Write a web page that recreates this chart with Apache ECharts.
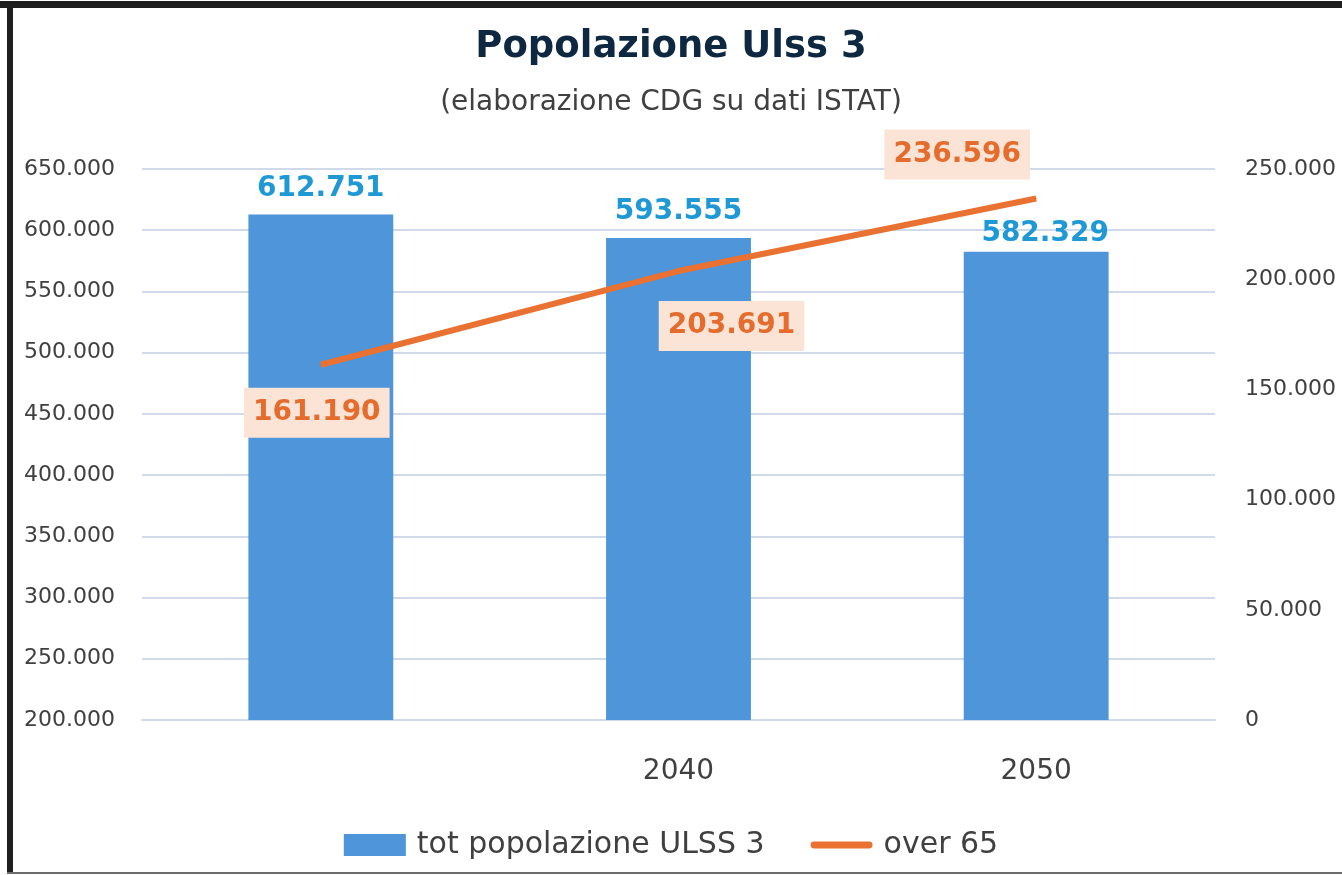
<!DOCTYPE html>
<html>
<head>
<meta charset="utf-8">
<script src="https://cdn.jsdelivr.net/npm/echarts@6/dist/echarts.min.js"></script>
<style>
  html, body { margin: 0; padding: 0; background: #ffffff; }
  #chart { position: absolute; left: 0; top: 0; width: 1342px; height: 875px; }
  .frame { position: absolute; background: #1f1f1f; pointer-events: none; }
</style>
</head>
<body>
<div id="chart"></div>
<div class="frame" style="left:0;top:1px;width:1342px;height:7px;"></div>
<div class="frame" style="left:7px;top:1px;width:6px;height:873px;"></div>
<div class="frame" style="left:7px;top:872px;width:1335px;height:2px;background:#6b6b6b;"></div>
<script>
// Population of ULSS 3: total residents (bars, left axis) and over-65 (line, right axis)
const categories = ['', '2040', '2050'];
const totPopolazione = [612751, 593555, 582329];
const over65 = [161190, 203691, 236596];

const leftAxis = { min: 200000, max: 650000, interval: 50000 };
const rightAxis = { min: 0, max: 250000, interval: 50000 };

// Italian thousands separator
function fmt(v) {
  return String(Math.round(v)).replace(/\B(?=(\d{3})+(?!\d))/g, '.');
}

const barLabelOffsets = [[0, 0], [0, 0], [9, 8]];
const lineLabelOffsets = [[-4, 48], [53, 55], [-79, -44]];

const chart = echarts.init(document.getElementById('chart'));
chart.setOption({
  animation: false,
  backgroundColor: '#ffffff',
  title: [
    {
      text: 'Popolazione Ulss 3',
      left: 'center', top: 24,
      textStyle: { fontFamily: 'DejaVu Sans', fontWeight: 'bold', fontSize: 37, color: '#0e2841' }
    },
    {
      text: '(elaborazione CDG su dati ISTAT)',
      left: 'center', top: 84,
      textStyle: { fontFamily: 'DejaVu Sans', fontWeight: 'normal', fontSize: 28, color: '#404040' }
    }
  ],
  grid: { left: 142, right: 127, top: 169, bottom: 155 },
  legend: {
    bottom: 10,
    left: 'center',
    itemWidth: 62,
    itemHeight: 22,
    itemGap: 46,
    textStyle: { fontFamily: 'DejaVu Sans', fontSize: 30, color: '#404040', padding: [0, 0, 0, 6] },
    data: [
      { name: 'tot popolazione ULSS 3', icon: 'rect' },
      { name: 'over 65', icon: 'path://M3,0 L59,0 A3.5,3.5 0 0 1 59,7 L3,7 A3.5,3.5 0 0 1 3,0 Z' }
    ]
  },
  xAxis: {
    type: 'category',
    data: categories,
    axisLine: { lineStyle: { color: '#cfdaea', width: 2 } },
    axisTick: { show: false },
    axisLabel: { margin: 38, fontFamily: 'DejaVu Sans', fontSize: 28, color: '#404040' }
  },
  yAxis: [
    {
      type: 'value',
      min: leftAxis.min, max: leftAxis.max, interval: leftAxis.interval,
      axisLine: { show: false },
      axisTick: { show: false },
      splitLine: { lineStyle: { color: '#cfdaea', width: 2 } },
      axisLabel: { margin: 27, fontFamily: 'DejaVu Sans', fontSize: 22, color: '#404040', formatter: fmt }
    },
    {
      type: 'value',
      min: rightAxis.min, max: rightAxis.max, interval: rightAxis.interval,
      axisLine: { show: false },
      axisTick: { show: false },
      splitLine: { show: false },
      axisLabel: { margin: 30, fontFamily: 'DejaVu Sans', fontSize: 22, color: '#404040', formatter: fmt }
    }
  ],
  series: [
    {
      name: 'tot popolazione ULSS 3',
      type: 'bar',
      yAxisIndex: 0,
      barWidth: '40.5%',
      itemStyle: { color: '#4e95d9' },
      data: totPopolazione.map((v, i) => ({
        value: v,
        label: { offset: barLabelOffsets[i] }
      })),
      label: {
        show: true,
        position: 'top',
        distance: 12,
        fontFamily: 'DejaVu Sans',
        fontWeight: 'bold',
        fontSize: 28,
        color: '#1f99d6',
        formatter: p => fmt(p.value)
      },
      z: 2
    },
    {
      name: 'over 65',
      type: 'line',
      yAxisIndex: 1,
      symbol: 'circle',
      symbolSize: 1,
      showSymbol: true,
      itemStyle: { color: '#e97132' },
      lineStyle: { color: '#e97132', width: 6 },
      data: over65.map((v, i) => ({
        value: v,
        label: { offset: lineLabelOffsets[i] }
      })),
      label: {
        show: true,
        position: 'inside',
        fontFamily: 'DejaVu Sans',
        fontWeight: 'bold',
        fontSize: 28,
        color: '#e46c2c',
        backgroundColor: '#fbe3d6',
        padding: [12, 9, 10, 9],
        formatter: p => fmt(p.value)
      },
      z: 3
    }
  ]
});
</script>
</body>
</html>
